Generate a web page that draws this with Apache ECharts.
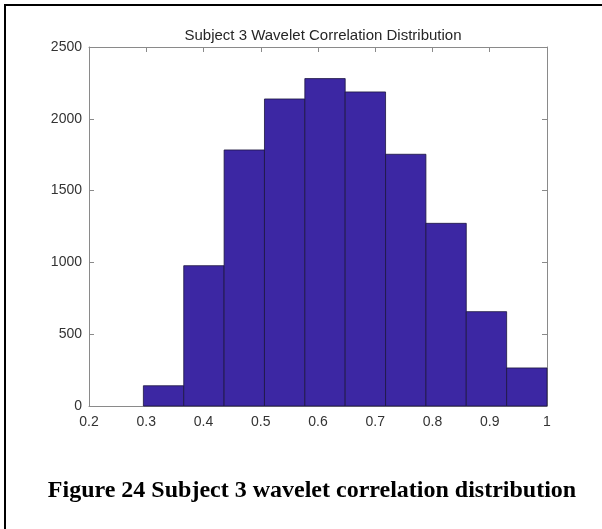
<!DOCTYPE html>
<html>
<head>
<meta charset="utf-8">
<script src="https://cdn.jsdelivr.net/npm/echarts@6/dist/echarts.min.js"></script>
<style>
html,body{margin:0;padding:0;background:#fff;}
#chart{width:602px;height:529px;}
</style>
</head>
<body>
<div id="chart"></div>
<script>
// Histogram bins (edges) and counts
var binEdges = [0.295, 0.3655, 0.436, 0.5065, 0.577, 0.6475, 0.718, 0.7885, 0.859, 0.9295, 1.0];
var counts = [141, 977, 1783, 2138, 2280, 2187, 1753, 1272, 657, 265];
var xTicks = [0.2, 0.3, 0.4, 0.5, 0.6, 0.7, 0.8, 0.9, 1];
var yTicks = [0, 500, 1000, 1500, 2000, 2500];
var chartTitle = 'Subject 3 Wavelet Correlation Distribution';
var caption = 'Figure 24 Subject 3 wavelet correlation distribution';

var data = counts.map(function (c, i) { return [binEdges[i], binEdges[i + 1], c]; });

var chart = echarts.init(document.getElementById('chart'), null, {renderer: 'canvas'});
var axisColor = '#8a8a8a';
var labelColor = '#333333';
var font = 'Arial, "Liberation Sans", sans-serif';

var option = {
  animation: false,
  backgroundColor: '#ffffff',
  title: [{
    text: chartTitle,
    left: 318, top: 23, textAlign: 'center',
    textStyle: {fontSize: 15, fontWeight: 'normal', color: '#262626', fontFamily: font}
  }, {
    text: caption,
    left: 307, top: 474, textAlign: 'center',
    textStyle: {fontSize: 24, fontWeight: 'bold', color: '#000', fontFamily: '"Liberation Serif", "Times New Roman", serif'}
  }],
  grid: {left: 89, right: 55, top: 47, bottom: 123, containLabel: false},
  xAxis: [{
    type: 'value', min: xTicks[0], max: xTicks[xTicks.length - 1], interval: 0.1,
    axisLine: {show: true, lineStyle: {color: axisColor, width: 1}},
    axisTick: {show: true, inside: true, length: 5, lineStyle: {color: axisColor}},
    axisLabel: {color: labelColor, fontSize: 14, fontFamily: font, margin: 9,
      formatter: function (v) { return String(+v.toFixed(1)); }},
    splitLine: {show: false}
  }, {
    type: 'value', position: 'top', min: xTicks[0], max: xTicks[xTicks.length - 1], interval: 0.1,
    axisLine: {show: true, onZero: false, lineStyle: {color: axisColor, width: 1}},
    axisTick: {show: true, inside: true, length: 5, lineStyle: {color: axisColor}},
    axisLabel: {show: false}, splitLine: {show: false}
  }],
  yAxis: [{
    type: 'value', min: yTicks[0], max: yTicks[yTicks.length - 1], interval: 500,
    axisLine: {show: true, lineStyle: {color: axisColor, width: 1}},
    axisTick: {show: true, inside: true, length: 5, lineStyle: {color: axisColor}},
    axisLabel: {color: labelColor, fontSize: 14, fontFamily: font, margin: 7,
      formatter: function (v) { return String(v); }},
    splitLine: {show: false}
  }, {
    type: 'value', position: 'right', min: yTicks[0], max: yTicks[yTicks.length - 1], interval: 500,
    axisLine: {show: true, onZero: false, lineStyle: {color: axisColor, width: 1}},
    axisTick: {show: true, inside: true, length: 5, lineStyle: {color: axisColor}},
    axisLabel: {show: false}, splitLine: {show: false}
  }],
  graphic: [
    {type: 'rect', shape: {x: 4, y: 4, width: 598, height: 2}, style: {fill: '#000'}, z: 100},
    {type: 'rect', shape: {x: 4, y: 4, width: 2, height: 525}, style: {fill: '#000'}, z: 100}
  ],
  series: [{
    type: 'custom',
    xAxisIndex: 0, yAxisIndex: 0,
    data: data,
    encode: {x: [0, 1], y: 2},
    renderItem: function (params, api) {
      var p0 = api.coord([api.value(0), 0]);
      var p1 = api.coord([api.value(1), api.value(2)]);
      return {
        type: 'rect',
        shape: {x: p0[0], y: p1[1], width: p1[0] - p0[0], height: p0[1] - p1[1]},
        style: {fill: '#3c27a3', stroke: '#1c1540', lineWidth: 0.8}
      };
    }
  }]
};
chart.setOption(option);
</script>
</body>
</html>
